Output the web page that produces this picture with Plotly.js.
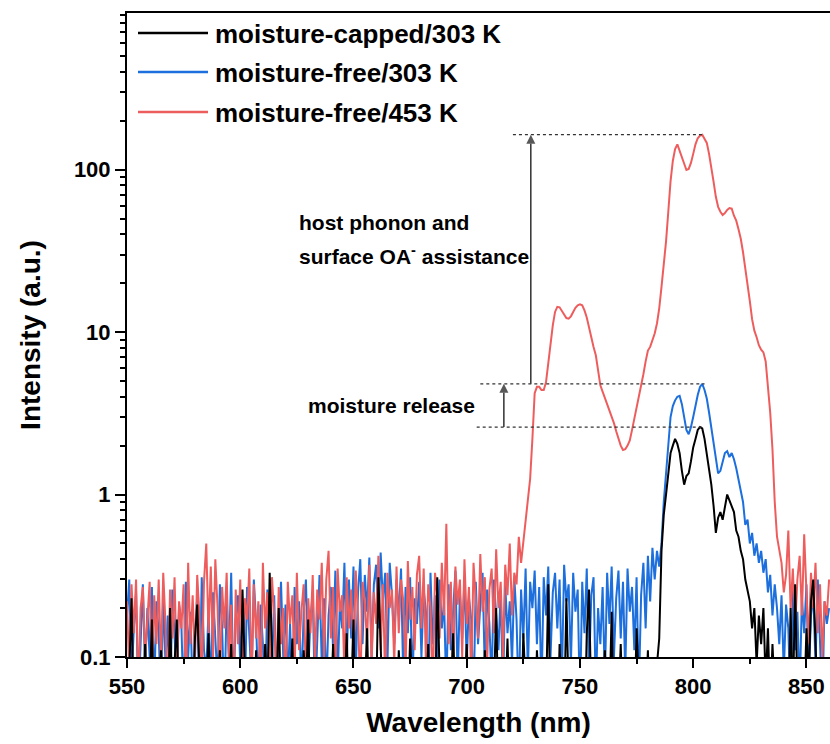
<!DOCTYPE html>
<html>
<head>
<meta charset="utf-8">
<script src="https://cdn.plot.ly/plotly-3.0.1.min.js"></script>
<style>html,body{margin:0;padding:0;background:#fff}</style>
</head>
<body>
<div id="chart" style="width:830px;height:744px"></div>
<script>
// ---------- data ----------
const seriesNames = ['moisture-capped/303 K', 'moisture-free/303 K', 'moisture-free/453 K'];
const seriesColors = ['#000000', '#1C6FDC', '#EE5D5D'];
const wavelengthStart = 550;   // nm, first sample
const wavelengthStep = 1;      // nm, sampling interval

// moisture-capped / 303 K  (one row = 10 nm, row start in comment)
const cappedY303 = [
/*550*/ 0.05, 0.08, 0.23, 0.04, 0.06, 0.03, 0.09, 0.05, 0.12, 0.04,
/*560*/ 0.06, 0.17, 0.03, 0.07, 0.05, 0.11, 0.04, 0.08, 0.03, 0.20,
/*570*/ 0.05, 0.09, 0.17, 0.04, 0.06, 0.03, 0.10, 0.05, 0.07, 0.04,
/*580*/ 0.13, 0.21, 0.05, 0.03, 0.08, 0.06, 0.14, 0.04, 0.09, 0.03,
/*590*/ 0.05, 0.11, 0.04, 0.07, 0.03, 0.06, 0.12, 0.04, 0.05, 0.08,
/*600*/ 0.04, 0.26, 0.06, 0.03, 0.09, 0.05, 0.04, 0.11, 0.03, 0.07,
/*610*/ 0.05, 0.12, 0.06, 0.33, 0.08, 0.04, 0.06, 0.20, 0.05, 0.03,
/*620*/ 0.09, 0.04, 0.06, 0.13, 0.03, 0.05, 0.08, 0.04, 0.11, 0.06,
/*630*/ 0.17, 0.04, 0.07, 0.03, 0.10, 0.05, 0.04, 0.08, 0.06, 0.03,
/*640*/ 0.05, 0.12, 0.04, 0.07, 0.03, 0.09, 0.05, 0.14, 0.04, 0.06,
/*650*/ 0.17, 0.03, 0.05, 0.08, 0.04, 0.06, 0.15, 0.04, 0.03, 0.10,
/*660*/ 0.05, 0.31, 0.12, 0.04, 0.06, 0.03, 0.09, 0.05, 0.07, 0.04,
/*670*/ 0.11, 0.05, 0.03, 0.08, 0.04, 0.13, 0.06, 0.03, 0.05, 0.09,
/*680*/ 0.04, 0.07, 0.05, 0.12, 0.03, 0.06, 0.04, 0.31, 0.08, 0.05,
/*690*/ 0.03, 0.10, 0.04, 0.06, 0.14, 0.05, 0.03, 0.08, 0.04, 0.06,
/*700*/ 0.12, 0.05, 0.03, 0.07, 0.04, 0.09, 0.06, 0.03, 0.11, 0.05,
/*710*/ 0.04, 0.08, 0.06, 0.20, 0.04, 0.03, 0.07, 0.05, 0.13, 0.04,
/*720*/ 0.06, 0.03, 0.09, 0.05, 0.04, 0.14, 0.06, 0.03, 0.08, 0.05,
/*730*/ 0.04, 0.11, 0.06, 0.03, 0.07, 0.05, 0.28, 0.04, 0.09, 0.06,
/*740*/ 0.03, 0.12, 0.05, 0.04, 0.23, 0.06, 0.03, 0.08, 0.05, 0.10,
/*750*/ 0.04, 0.06, 0.03, 0.14, 0.26, 0.05, 0.07, 0.04, 0.09, 0.03,
/*760*/ 0.06, 0.11, 0.04, 0.05, 0.19, 0.03, 0.07, 0.05, 0.12, 0.04,
/*770*/ 0.06, 0.03, 0.09, 0.05, 0.04, 0.15, 0.06, 0.03, 0.08, 0.05,
/*780*/ 0.11, 0.04, 0.07, 0.05, 0.09, 0.13, 0.45, 0.75, 1.0, 1.4,
/*790*/ 1.8, 2.0, 2.2, 2.05, 1.8, 1.4, 1.15, 1.3, 1.35, 1.6,
/*800*/ 1.95, 2.2, 2.5, 2.6, 2.55, 2.2, 1.8, 1.5, 1.15, 0.85,
/*810*/ 0.58, 0.72, 0.78, 0.70, 0.85, 1.0, 0.92, 0.85, 0.78, 0.60,
/*820*/ 0.55, 0.45, 0.40, 0.30, 0.25, 0.22, 0.15, 0.20, 0.09, 0.18,
/*830*/ 0.12, 0.20, 0.07, 0.15, 0.05, 0.12, 0.06, 0.04, 0.10, 0.05,
/*840*/ 0.03, 0.08, 0.04, 0.20, 0.05, 0.28, 0.06, 0.04, 0.09, 0.05,
/*850*/ 0.15, 0.07, 0.22, 0.30, 0.12, 0.05, 0.04, 0.08, 0.03, 0.06,
/*860*/ 0.04
];

// moisture-free / 303 K
const freeY303 = [
/*550*/ 0.18, 0.30, 0.07, 0.15, 0.25, 0.05, 0.12, 0.28, 0.08, 0.20,
/*560*/ 0.10, 0.27, 0.06, 0.22, 0.14, 0.05, 0.24, 0.09, 0.18, 0.04,
/*570*/ 0.26, 0.12, 0.07, 0.21, 0.16, 0.05, 0.29, 0.10, 0.19, 0.06,
/*580*/ 0.14, 0.23, 0.05, 0.31, 0.11, 0.08, 0.20, 0.06, 0.25, 0.13,
/*590*/ 0.07, 0.28, 0.15, 0.05, 0.22, 0.10, 0.33, 0.06, 0.17, 0.24,
/*600*/ 0.09, 0.20, 0.05, 0.27, 0.13, 0.07, 0.30, 0.16, 0.06, 0.21,
/*610*/ 0.12, 0.05, 0.26, 0.18, 0.08, 0.24, 0.06, 0.15, 0.29, 0.10,
/*620*/ 0.21, 0.07, 0.16, 0.05, 0.27, 0.12, 0.22, 0.06, 0.19, 0.30,
/*630*/ 0.08, 0.17, 0.25, 0.05, 0.14, 0.32, 0.09, 0.23, 0.06, 0.18,
/*640*/ 0.27, 0.11, 0.34, 0.07, 0.22, 0.15, 0.38, 0.09, 0.30, 0.13,
/*650*/ 0.36, 0.08, 0.25, 0.40, 0.12, 0.32, 0.19, 0.41, 0.10, 0.28,
/*660*/ 0.37, 0.15, 0.44, 0.22, 0.33, 0.09, 0.38, 0.24, 0.12, 0.30,
/*670*/ 0.18, 0.35, 0.07, 0.27, 0.14, 0.31, 0.06, 0.23, 0.16, 0.29,
/*680*/ 0.10, 0.26, 0.19, 0.05, 0.33, 0.12, 0.24, 0.08, 0.30, 0.15,
/*690*/ 0.22, 0.06, 0.28, 0.11, 0.19, 0.34, 0.07, 0.25, 0.13, 0.31,
/*700*/ 0.09, 0.23, 0.17, 0.05, 0.29, 0.12, 0.21, 0.33, 0.08, 0.26,
/*710*/ 0.16, 0.07, 0.30, 0.19, 0.11, 0.25, 0.06, 0.28, 0.14, 0.22,
/*720*/ 0.09, 0.31, 0.17, 0.05, 0.26, 0.13, 0.35, 0.08, 0.29, 0.20,
/*730*/ 0.34, 0.12, 0.27, 0.06, 0.31, 0.18, 0.36, 0.10, 0.25, 0.33,
/*740*/ 0.15, 0.30, 0.07, 0.37, 0.22, 0.28, 0.09, 0.33, 0.19, 0.26,
/*750*/ 0.05, 0.29, 0.14, 0.35, 0.08, 0.24, 0.31, 0.06, 0.20, 0.12,
/*760*/ 0.27, 0.07, 0.33, 0.16, 0.36, 0.10, 0.23, 0.34, 0.13, 0.29,
/*770*/ 0.08, 0.35, 0.19, 0.27, 0.11, 0.31, 0.06, 0.24, 0.38, 0.15,
/*780*/ 0.42, 0.22, 0.47, 0.30, 0.45, 0.36, 0.50, 0.90, 1.40, 2.1,
/*790*/ 3.0, 3.5, 3.8, 4.0, 4.05, 3.6, 3.0, 2.5, 2.35, 2.6,
/*800*/ 3.0, 3.6, 4.1, 4.6, 4.8, 4.4, 3.9, 3.2, 2.6, 2.1,
/*810*/ 1.7, 1.35, 1.4, 1.6, 1.8, 1.85, 1.7, 1.8, 1.65, 1.45,
/*820*/ 1.25, 1.05, 0.90, 0.65, 0.70, 0.50, 0.58, 0.42, 0.50, 0.38,
/*830*/ 0.45, 0.33, 0.40, 0.25, 0.32, 0.18, 0.28, 0.20, 0.12, 0.24,
/*840*/ 0.08, 0.21, 0.15, 0.05, 0.26, 0.11, 0.19, 0.06, 0.23, 0.14,
/*850*/ 0.28, 0.07, 0.18, 0.25, 0.09, 0.30, 0.12, 0.05, 0.22, 0.16,
/*860*/ 0.20
];

// moisture-free / 453 K
const freeY453 = [
/*550*/ 0.22, 0.08, 0.28, 0.14, 0.30, 0.06, 0.20, 0.27, 0.10, 0.18,
/*560*/ 0.29, 0.07, 0.24, 0.12, 0.30, 0.09, 0.33, 0.16, 0.05, 0.26,
/*570*/ 0.13, 0.31, 0.08, 0.22, 0.15, 0.28, 0.06, 0.38, 0.12, 0.24,
/*580*/ 0.09, 0.32, 0.18, 0.07, 0.29, 0.50, 0.14, 0.36, 0.10, 0.40,
/*590*/ 0.20, 0.06, 0.27, 0.15, 0.33, 0.09, 0.21, 0.05, 0.26, 0.12,
/*600*/ 0.30, 0.08, 0.23, 0.17, 0.35, 0.07, 0.28, 0.13, 0.22, 0.06,
/*610*/ 0.38, 0.15, 0.25, 0.09, 0.31, 0.18, 0.07, 0.27, 0.12, 0.20,
/*620*/ 0.06, 0.29, 0.16, 0.24, 0.08, 0.33, 0.11, 0.19, 0.28, 0.07,
/*630*/ 0.23, 0.14, 0.32, 0.09, 0.26, 0.17, 0.38, 0.10, 0.30, 0.45,
/*640*/ 0.13, 0.27, 0.07, 0.35, 0.19, 0.24, 0.08, 0.31, 0.15, 0.26,
/*650*/ 0.10, 0.34, 0.18, 0.06, 0.29, 0.22, 0.12, 0.37, 0.09, 0.25,
/*660*/ 0.16, 0.42, 0.11, 0.28, 0.07, 0.33, 0.20, 0.26, 0.09, 0.36,
/*670*/ 0.14, 0.30, 0.22, 0.08, 0.39, 0.17, 0.27, 0.11, 0.32, 0.42,
/*680*/ 0.15, 0.35, 0.09, 0.28, 0.20, 0.06, 0.33, 0.24, 0.13, 0.38,
/*690*/ 0.18, 0.66, 0.12, 0.29, 0.08, 0.36, 0.21, 0.30, 0.10, 0.40,
/*700*/ 0.16, 0.27, 0.07, 0.38, 0.23, 0.13, 0.43, 0.19, 0.31, 0.09,
/*710*/ 0.26, 0.35, 0.14, 0.46, 0.20, 0.29, 0.10, 0.37, 0.24, 0.50,
/*720*/ 0.18, 0.33, 0.28, 0.55, 0.38, 0.50, 0.70, 0.95, 1.25, 2.2,
/*730*/ 4.2, 4.6, 4.6, 4.4, 4.4, 4.9, 6.5, 8.3, 11, 13.3,
/*740*/ 14.3, 14.2, 13.5, 12.7, 12.2, 12.1, 12.5, 13.3, 14.1, 14.6,
/*750*/ 14.8, 14.6, 13.6, 12.3, 10.6, 9.1, 8.1, 7.2, 5.6, 4.7,
/*760*/ 4.3, 3.95, 3.6, 3.3, 3.0, 2.75, 2.45, 2.2, 2.0, 1.88,
/*770*/ 1.9, 2.0, 2.15, 2.5, 2.9, 3.4, 4.0, 4.7, 5.5, 6.6,
/*780*/ 7.7, 8.1, 8.8, 9.8, 11.3, 14, 19, 25, 36, 55,
/*790*/ 85, 113, 134, 143, 130, 117, 106, 99.5, 101, 110,
/*800*/ 125, 143, 156, 162, 164, 156, 146, 125, 105, 84,
/*810*/ 68, 59, 55, 52.6, 54, 56.5, 58, 57.5, 52, 48.5,
/*820*/ 43, 37.5, 31, 25, 20, 15.5, 12, 10.2, 9.3, 8.3,
/*830*/ 7.8, 7.5, 6.6, 4.8, 3.2, 1.9, 0.9, 0.55, 0.45, 0.38,
/*840*/ 0.25, 0.32, 0.60, 0.20, 0.35, 0.15, 0.30, 0.42, 0.18, 0.57,
/*850*/ 0.25, 0.12, 0.33, 0.20, 0.38, 0.14, 0.28, 0.10, 0.22, 0.18,
/*860*/ 0.30
];

const xTickVals = [550, 600, 650, 700, 750, 800, 850];
const yTickVals = [0.1, 1, 10, 100];
const yTickText = ['0.1', '1', '10', '100'];
const yMinorVals = [0.2, 0.3, 0.4, 0.5, 0.6, 0.7, 0.8, 0.9,
                    2, 3, 4, 5, 6, 7, 8, 9,
                    20, 30, 40, 50, 60, 70, 80, 90,
                    200, 300, 400, 500, 600, 700, 800, 900];
const noteTexts = ['host phonon and', 'surface OA<sup>-</sup> assistance', 'moisture release'];
const xTitle = 'Wavelength (nm)';
const yTitle = 'Intensity (a.u.)';

[cappedY303, freeY303, freeY453].forEach((a, i) => {
  if (a.length !== 311) throw new Error('series ' + i + ' has length ' + a.length);
});

// ---------- styling / layout ----------
const FONT = 'Liberation Sans, Arial, Helvetica, sans-serif';
const W = 830, H = 744, M = {l: 127, r: 0, t: 13, b: 87};
const px2paperX = px => (px - M.l) / (W - M.l - M.r);
const px2paperY = py => 1 - (py - M.t) / (H - M.t - M.b);

function spectrum(y, i) {
  return {
    type: 'scatter', mode: 'lines', name: seriesNames[i],
    x0: wavelengthStart, dx: wavelengthStep, y: y,
    line: {color: seriesColors[i], width: 2},
    hoverinfo: 'skip'
  };
}

const redMax = Math.max(...freeY453);
const blueMax = Math.max(...freeY303);
const blackMax = Math.max(...cappedY303);

// vertical arrows between the peak levels (tip = 'arrow-up' marker whose apex sits on the point)
function arrow(xPos, fromY, toY) {
  return {
    type: 'scatter', mode: 'lines+markers', showlegend: false, hoverinfo: 'skip',
    x: [xPos, xPos], y: [fromY, toY],
    line: {color: '#222', width: 1.4},
    marker: {symbol: 'arrow-up', size: [0, 9], color: '#111', line: {width: 0}}
  };
}

// draw order: blue, red, then black on top
const traces = [
  spectrum(freeY303, 1), spectrum(freeY453, 2), spectrum(cappedY303, 0),
  arrow(728.3, blueMax, redMax),
  arrow(716.4, blackMax, blueMax)
];

const dotLine = {color: '#333', width: 1.3, dash: 'dot'};
const shapes = [
  {type: 'line', xref: 'x', yref: 'y', x0: 720.4, x1: 804.3, y0: redMax, y1: redMax, line: dotLine},
  {type: 'line', xref: 'x', yref: 'y', x0: 706.0, x1: 805.0, y0: blueMax, y1: blueMax, line: dotLine},
  {type: 'line', xref: 'x', yref: 'y', x0: 704.4, x1: 803.8, y0: blackMax, y1: blackMax, line: dotLine}
];
const legendRows = [33, 72, 112];
const annotations = [];
seriesNames.forEach((name, i) => {
  shapes.push({type: 'line', xref: 'paper', yref: 'paper',
    x0: px2paperX(138), x1: px2paperX(208), y0: px2paperY(legendRows[i]), y1: px2paperY(legendRows[i]),
    line: {color: seriesColors[i], width: 2.5}});
  annotations.push({xref: 'paper', yref: 'paper', x: px2paperX(213), y: px2paperY(legendRows[i] + 1),
    xanchor: 'left', yanchor: 'middle', showarrow: false, text: name,
    font: {family: FONT, size: 26, weight: 'bold', color: '#000'}});
});

const noteFont = {family: FONT, size: 21, weight: 'bold', color: '#000'};
annotations.push(
  {x: 625.1, y: 1.674, xref: 'x', yref: 'y', xanchor: 'left', yanchor: 'middle', showarrow: false, text: noteTexts[0], font: noteFont},
  {x: 625.1, y: 1.475, xref: 'x', yref: 'y', xanchor: 'left', yanchor: 'middle', showarrow: false, text: noteTexts[1], font: noteFont},
  {x: 629.0, y: 0.548, xref: 'x', yref: 'y', xanchor: 'left', yanchor: 'middle', showarrow: false, text: noteTexts[2], font: noteFont}
);

const tickFont = {family: FONT, size: 22, weight: 'bold', color: '#000'};
const titleFont = {family: FONT, size: 28, weight: 'bold', color: '#000'};

const layout = {
  width: W, height: H, margin: M,
  paper_bgcolor: '#fff', plot_bgcolor: '#fff',
  showlegend: false,
  font: {family: FONT, color: '#000'},
  xaxis: {
    range: [550, 860.4], tickmode: 'array', tickvals: xTickVals,
    ticks: 'outside', ticklen: 9, tickwidth: 2, tickcolor: '#000',
    showline: true, linewidth: 2, linecolor: '#000', mirror: true,
    showgrid: false, zeroline: false, tickfont: tickFont,
    minor: {tick0: 550, dtick: 25, ticks: 'outside', ticklen: 5, tickwidth: 2, tickcolor: '#000', showgrid: false},
    title: {text: xTitle, font: titleFont, standoff: 14}
  },
  yaxis: {
    type: 'log', range: [-1, 2.964], tickmode: 'array', tickvals: yTickVals, ticktext: yTickText,
    ticks: 'outside', ticklen: 10, tickwidth: 2, tickcolor: '#000',
    showline: true, linewidth: 2, linecolor: '#000',
    showgrid: false, zeroline: false, tickfont: tickFont,
    minor: {tickmode: 'array', tickvals: yMinorVals, ticks: 'outside', ticklen: 5, tickwidth: 2, tickcolor: '#000', showgrid: false},
    title: {text: yTitle, font: titleFont, standoff: 25}
  },
  shapes: shapes,
  annotations: annotations
};

Plotly.newPlot('chart', traces, layout, {staticPlot: true, displayModeBar: false});
</script>
</body>
</html>
